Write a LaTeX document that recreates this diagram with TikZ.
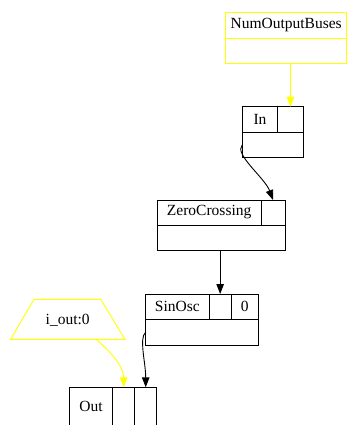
\documentclass[tikz,border=0pt]{standalone}
\usepackage{fontspec}
\setmainfont{Liberation Serif}
\usetikzlibrary{arrows.meta}
\definecolor{gvyellow}{RGB}{255,255,0}
\begin{document}
\begin{tikzpicture}[x=1pt,y=-1pt,
  cell/.style={draw=black,line width=0.9pt,rectangle,inner sep=0pt,outer sep=0pt,anchor=north west,minimum height=25.3pt,font=\fontsize{15.5}{18}\selectfont},
  ycell/.style={cell,draw=gvyellow},
  edge/.style={line width=0.9pt,-{Triangle[length=10pt,width=7.5pt]}},
  yedge/.style={edge,color=gvyellow}]
\useasboundingbox (0,0) rectangle (348,425);
\clip (0,0) rectangle (348,425);
% NumOutputBuses
\node[ycell,minimum width=121pt,minimum height=25.6pt] (nob1) at (225.7,12.7) {NumOutputBuses};
\node[ycell,minimum width=121pt,minimum height=25pt] (nob2) at (225.7,38.3) {};
% In
\node[cell,minimum width=35.4pt,minimum height=25.6pt] (in1) at (242.3,106.7) {In};
\node[cell,minimum width=25.6pt,minimum height=25.6pt] (in2) at (277.7,106.7) {};
\node[cell,minimum width=61pt,minimum height=25pt] (in3) at (242.3,132.3) {};
% ZeroCrossing
\node[cell,minimum width=103.7pt,minimum height=25pt] (zc1) at (157.3,200) {ZeroCrossing};
\node[cell,minimum width=24pt,minimum height=25pt] (zc2) at (261,200) {};
\node[cell,minimum width=127.7pt,minimum height=25pt] (zc3) at (157.3,225) {};
% SinOsc
\node[cell,minimum width=63.3pt] (so1) at (145.7,294) {SinOsc};
\node[cell,minimum width=22.3pt] (so2) at (209,294) {};
\node[cell,minimum width=27pt] (so3) at (231.3,294) {0};
\node[cell,minimum width=112.6pt,minimum height=25.7pt] (so4) at (145.7,319.3) {};
% Out
\node[cell,minimum width=43.4pt,minimum height=39pt] (out1) at (69.3,387.3) {Out};
\node[cell,minimum width=22pt,minimum height=39pt] (out2) at (112.7,387.3) {};
\node[cell,minimum width=22pt,minimum height=39pt] (out3) at (134.7,387.3) {};
% i_out:0 trapezium
\draw[gvyellow,line width=0.9pt] (34,299.3) -- (100.7,299.3) -- (125,339.3) -- (10.7,339.3) -- cycle;
\node[font=\fontsize{15.5}{18}\selectfont,inner sep=0pt] (iout) at (67.7,320) {i\_out:0};
\coordinate (ioutb) at (96,339.3);
% edges
\draw[yedge] (nob2.south -| in2.north) -- (in2.north);
\draw[edge] (in3.west) .. controls +(-9,9) and +(-8,-22) .. (zc2.north);
\draw[edge] (zc3.south -| so2.north) -- (so2.north);
\draw[edge] (so4.west) .. controls +(-7,6) and +(0,-25) .. (out3.north);
\draw[yedge] (ioutb) .. controls +(12,10) and +(0,-22) .. (out2.north);
\end{tikzpicture}
\end{document}
